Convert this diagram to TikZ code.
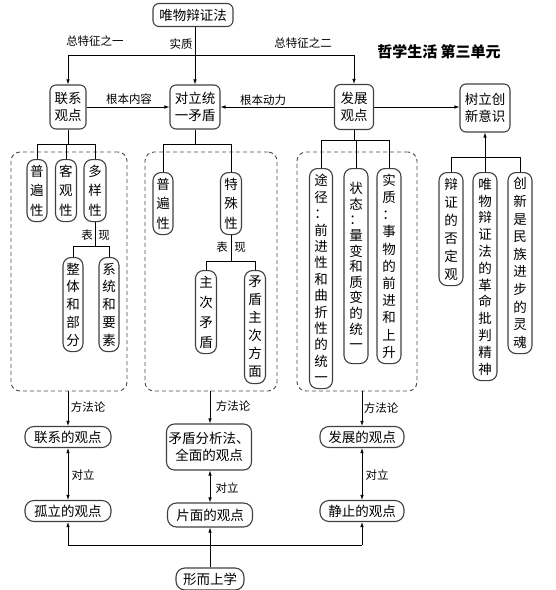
\documentclass[tikz,border=0pt]{standalone}
\usepackage{fontspec}
\setmainfont{Noto Sans CJK SC}
\usetikzlibrary{arrows.meta}
\begin{document}
\begin{tikzpicture}[x=1pt,y=-1pt,
  box/.style={draw=black!75, line width=1.1pt, rounded corners=6pt, inner sep=0pt, align=center, font=\fontsize{13.5}{17}\selectfont},
  pill/.style={box, rounded corners=9pt},
  vbox/.style={draw=black!75, line width=1.1pt, rounded corners=8pt, inner sep=0pt, align=center, anchor=north, text width=14pt},
  dbox/.style={draw=black!70, dash pattern=on 4pt off 3pt, line width=0.9pt, rounded corners=9pt, inner sep=0pt},
  lab/.style={font=\fontsize{11.5}{13}\selectfont, inner sep=0pt},
  arr/.style={-{Latex[length=5pt,width=3.5pt]}, line width=0.7pt},
  ln/.style={line width=0.7pt},
  dar/.style={{Latex[length=5pt,width=3.5pt]}-{Latex[length=5pt,width=3.5pt]}, line width=0.7pt},
]
\useasboundingbox (0,0) rectangle (556,590);

% dashed groups
\node[dbox, minimum width=116pt, minimum height=239pt] (d1) at (69,271.5) {};
\node[dbox, minimum width=132pt, minimum height=239pt] (d2) at (211,271.5) {};
\node[dbox, minimum width=120pt, minimum height=239pt] (d3) at (357,271.5) {};

% top level
\node[box, minimum width=80pt, minimum height=23pt] (top) at (193,15) {唯物辩证法};
\node[box, minimum width=36pt, minimum height=44pt] (lx) at (68,107) {联系\\观点};
\node[box, minimum width=50pt, minimum height=44pt] (dl) at (195,107) {对立统\\一矛盾};
\node[box, minimum width=39pt, minimum height=45pt] (fz) at (354,107) {发展\\观点};
\node[box, minimum width=50pt, minimum height=48pt] (cx) at (485,108) {树立创\\新意识};
\node[font=\fontsize{15}{17}\selectfont\bfseries, inner sep=0pt] (title) at (439,52) {哲学生活 第三单元};

\coordinate (hL) at (68,55);
\coordinate (hR) at (354,55);
\draw[arr] (top.south -| dl.north) -- (dl.north);
\draw[ln] (hL) -- (hR);
\draw[arr] (hL) -- (lx.north);
\draw[arr] (hR) -- (fz.north);
\node[lab] (t1) at (95,41) {总特征之一};
\node[lab] (t2) at (181,44) {实质};
\node[lab] (t3) at (303,43) {总特征之二};

\draw[arr] (lx.east) -- (dl.west);
\node[lab] (t4) at (129,99) {根本内容};
\draw[arr] (fz.west) -- (dl.east);
\node[lab] (t5) at (263,100) {根本动力};
\draw[arr] (fz.east) -- (fz.east -| cx.west);

% tree L
\node[vbox, minimum width=20pt, minimum height=62pt, font=\fontsize{13.5}{19.5}\selectfont] (a1) at (37,159) {普\\遍\\性};
\node[vbox, minimum width=21pt, minimum height=62pt, font=\fontsize{13.5}{19.5}\selectfont] (a2) at (66,159) {客\\观\\性};
\node[vbox, minimum width=22pt, minimum height=62pt, font=\fontsize{13.5}{19.5}\selectfont] (a3) at (95,159) {多\\样\\性};
\node[vbox, minimum width=20pt, minimum height=94pt, font=\fontsize{13.5}{17.75}\selectfont] (a4) at (73,257) {整\\体\\和\\部\\分};
\node[vbox, minimum width=20pt, minimum height=94pt, font=\fontsize{13.5}{17.75}\selectfont] (a5) at (109,257) {系\\统\\和\\要\\素};
\coordinate (l0) at (68,144);
\draw[ln] (lx.south) -- (l0);
\draw[ln] (a1.north) -- (a1.north |- l0) -- (a3.north |- l0) -- (a3.north);
\draw[ln] (a2.north) -- (a2.north |- l0);
\coordinate (j1) at (95,246);
\draw[ln] (a3.south) -- (j1);
\draw[ln] (a4.north) -- (a4.north |- j1) -- (a5.north |- j1) -- (a5.north);
\node[lab] (b1l) at (87,235) {表};
\node[lab] (b1r) at (104,235) {现};

% tree M
\node[vbox, minimum width=20pt, minimum height=62pt, font=\fontsize{13.5}{19.5}\selectfont] (b1) at (163,172) {普\\遍\\性};
\node[vbox, minimum width=21pt, minimum height=62pt, font=\fontsize{13.5}{19.5}\selectfont] (b2) at (231,172) {特\\殊\\性};
\node[vbox, minimum width=21pt, minimum height=83pt, font=\fontsize{13.5}{20}\selectfont] (b3) at (206,270) {主\\次\\矛\\盾};
\node[vbox, minimum width=21pt, minimum height=113pt, font=\fontsize{13.5}{18}\selectfont] (b4) at (255,270) {矛\\盾\\主\\次\\方\\面};
\coordinate (m0) at (195,144);
\draw[ln] (dl.south) -- (m0);
\draw[ln] (b1.north) -- (b1.north |- m0) -- (b2.north |- m0) -- (b2.north);
\coordinate (j2) at (231,261);
\draw[ln] (b2.south) -- (j2);
\draw[ln] (b3.north) -- (b3.north |- j2) -- (b4.north |- j2) -- (b4.north);
\node[lab] (b2l) at (222,247) {表};
\node[lab] (b2r) at (240,247) {现};

% tree R
\node[vbox, minimum width=23pt, minimum height=220pt, font=\fontsize{13.5}{16.4}\selectfont] (c1) at (321,168) {途\\径\\：\\前\\进\\性\\和\\曲\\折\\性\\的\\统\\一};
\node[vbox, minimum width=24pt, minimum height=195pt, font=\fontsize{13.5}{15.6}\selectfont] (c2) at (356,168) {状\\态\\：\\量\\变\\和\\质\\变\\的\\统\\一};
\node[vbox, minimum width=24pt, minimum height=195pt, font=\fontsize{13.5}{17.2}\selectfont] (c3) at (389,168) {实\\质\\：\\事\\物\\的\\前\\进\\和\\上\\升};
\coordinate (r0) at (354,140);
\draw[ln] (fz.south) -- (r0);
\draw[ln] (c1.north) -- (c1.north |- r0) -- (c3.north |- r0) -- (c3.north);
\draw[ln] (c2.north) -- (c2.north |- r0);

% tree C
\node[vbox, minimum width=24pt, minimum height=113pt, font=\fontsize{13.5}{18}\selectfont] (e1) at (451,172) {辩\\证\\的\\否\\定\\观};
\node[vbox, minimum width=24pt, minimum height=208pt, font=\fontsize{13.5}{16.8}\selectfont] (e2) at (485,172) {唯\\物\\辩\\证\\法\\的\\革\\命\\批\\判\\精\\神};
\node[vbox, minimum width=24pt, minimum height=181pt, font=\fontsize{13.5}{17.6}\selectfont] (e3) at (520,172) {创\\新\\是\\民\\族\\进\\步\\的\\灵\\魂};
\coordinate (k0) at (485,157);
\draw[arr] (k0) -- (cx.south);
\draw[ln] (e1.north) -- (e1.north |- k0) -- (e3.north |- k0) -- (e3.north);
\draw[ln] (e2.north) -- (k0);

% bottom
\node[pill, minimum width=86pt, minimum height=21pt] (f1) at (68,437) {联系的观点};
\node[pill, minimum width=86pt, minimum height=21pt] (f2) at (68,511) {孤立的观点};
\node[box, rounded corners=8pt, minimum width=85pt, minimum height=46pt] (g1) at (209,447) {矛盾分析法、\\全面的观点};
\node[pill, minimum width=85pt, minimum height=24pt] (g2) at (210,515) {片面的观点};
\node[pill, minimum width=84pt, minimum height=21pt] (h1) at (362,437) {发展的观点};
\node[pill, minimum width=84pt, minimum height=21pt] (h2) at (362,511) {静止的观点};
\node[pill, minimum width=68pt, minimum height=22pt] (xs) at (210,579) {形而上学};

\draw[arr] (d1.south -| f1.north) -- (f1.north);
\node[lab] (m1) at (88,407) {方法论};
\draw[arr] (d2.south -| g2.north) -- (g2.north |- g1.north);
\node[lab] (m2) at (233,406) {方法论};
\draw[arr] (d3.south -| h1.north) -- (h1.north);
\node[lab] (m3) at (381,408) {方法论};

\draw[dar] (f1.south) -- (f2.north);
\node[lab] (o1) at (83,475) {对立};
\draw[dar] (g2.north |- g1.south) -- (g2.north);
\node[lab] (o2) at (227,488) {对立};
\draw[dar] (h1.south) -- (h2.north);
\node[lab] (o3) at (377,475) {对立};

\coordinate (bj) at (210,545);
\draw[arr] (xs.north) -- (g2.south);
\draw[ln] (f2.south |- bj) -- (h2.south |- bj);
\draw[arr] (f2.south |- bj) -- (f2.south);
\draw[arr] (h2.south |- bj) -- (h2.south);
\end{tikzpicture}
\end{document}
